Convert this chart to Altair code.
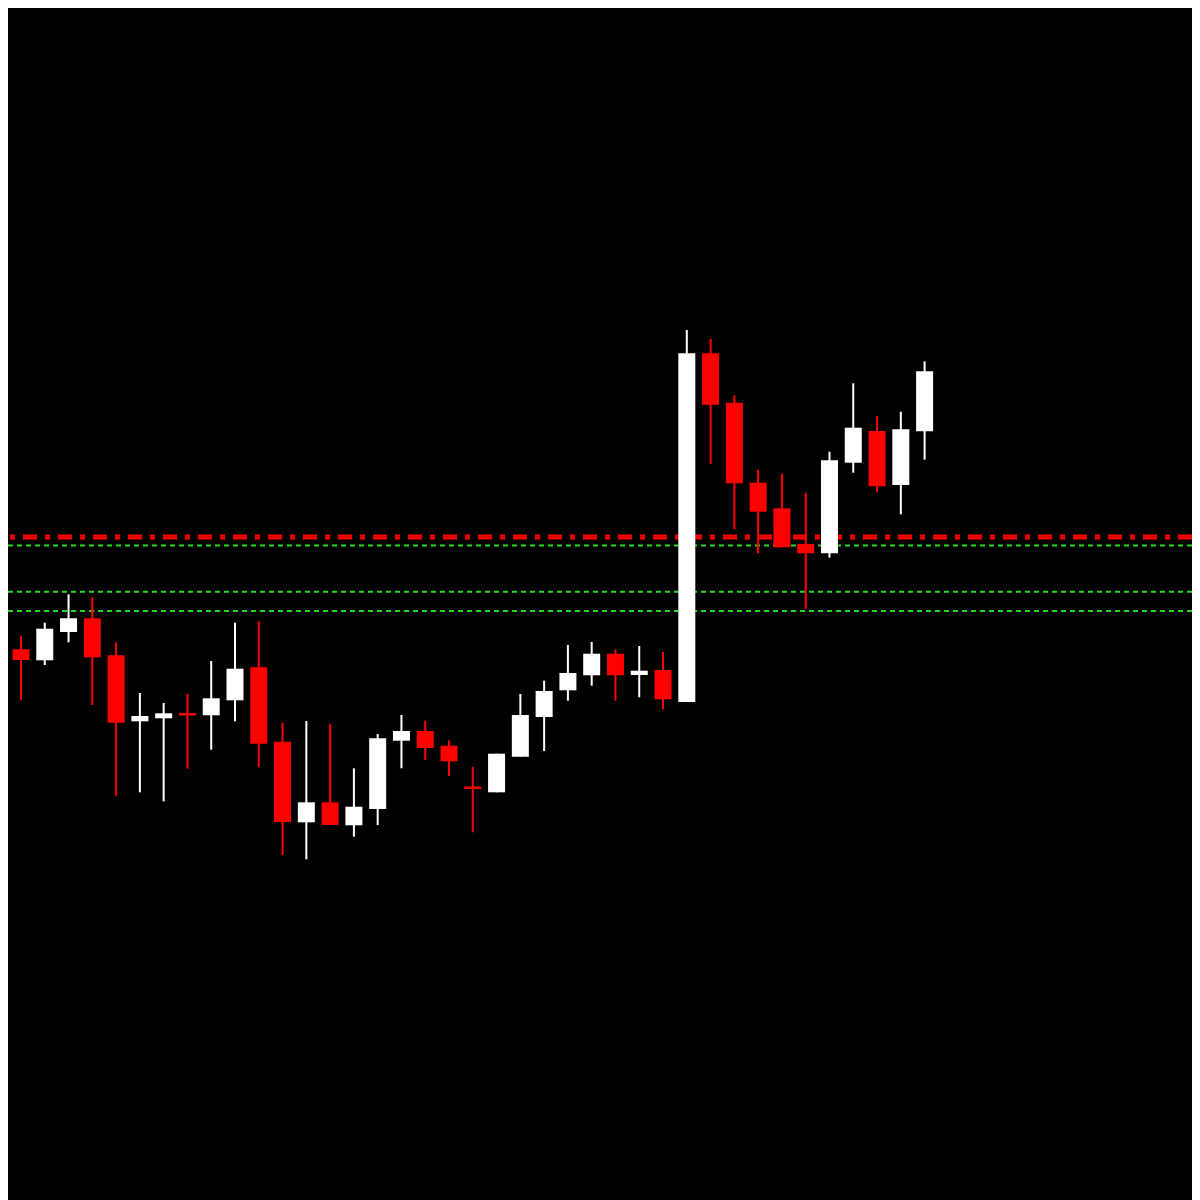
import altair as alt
import pandas as pd

# Candles (price units)
opens  = [568.3, 550.7, 539.7, 568.0, 581.7, 544.7, 478.7, 481.7, 487.0, 484.7,
          499.7, 532.7, 458.3, 377.7, 397.7, 374.7, 391.0, 459.3, 469.0, 454.3,
          413.5, 407.7, 443.3, 483.0, 509.7, 524.7, 546.3, 525.0, 530.0, 498.0,
          846.7, 797.3, 717.3, 691.7, 656.0, 646.7, 737.3, 769.0, 715.0, 768.7]
highs  = [575.0, 564.0, 577.3, 605.7, 602.7, 557.7, 507.0, 497.0, 506.0, 539.0,
          577.3, 578.7, 477.3, 479.0, 476.0, 431.7, 466.0, 485.0, 479.3, 459.7,
          433.0, 446.3, 506.0, 519.3, 555.0, 558.0, 550.7, 554.0, 548.0, 870.0,
          861.0, 804.7, 730.3, 726.3, 707.0, 748.3, 816.7, 783.7, 788.3, 838.7]
lows   = [540.0, 500.0, 535.0, 557.7, 495.0, 404.3, 407.7, 398.7, 431.3, 450.3,
          478.7, 432.7, 345.0, 340.7, 375.0, 363.3, 375.0, 431.7, 440.0, 424.0,
          367.7, 407.7, 443.3, 449.0, 499.3, 514.3, 499.3, 502.7, 490.7, 498.0,
          736.0, 670.7, 646.7, 652.7, 591.0, 642.3, 727.3, 707.7, 685.7, 740.3]
closes = [549.0, 540.0, 571.3, 581.7, 542.7, 477.3, 484.0, 486.7, 484.5, 501.7,
          531.3, 456.3, 378.0, 397.7, 375.0, 393.3, 461.7, 469.0, 452.0, 438.7,
          411.0, 446.3, 485.0, 509.0, 527.0, 546.3, 524.7, 529.3, 500.7, 846.7,
          795.3, 716.7, 688.3, 652.7, 646.7, 739.7, 772.3, 713.7, 770.7, 828.7]

# Horizontal levels
red_levels = [663.0]
green_levels = [654.5, 608.3, 589.0]

df = pd.DataFrame({
    "i": list(range(len(opens))),
    "open": opens, "high": highs, "low": lows, "close": closes,
})
df["dir"] = ["up" if c >= o else "down" for o, c in zip(opens, closes)]

W, H = 1184, 1192
xs = alt.Scale(domain=[0.454, 50.245], nice=False, zero=False, padding=0)
ys = alt.Scale(domain=[0, 1192], nice=False, zero=False, padding=0)
cs = alt.Scale(domain=["up", "down"], range=["#ffffff", "#ff0000"])

red_df = pd.DataFrame({"level": red_levels})
green_df = pd.DataFrame({"level": green_levels})

red_line = alt.Chart(red_df).mark_rule(
    color="#ff0000", strokeWidth=5, strokeDash=[14, 8, 5, 8]
).encode(y=alt.Y("level:Q", scale=ys, axis=None))

red_mid = alt.Chart(red_df).mark_rule(
    color="#c00000", strokeWidth=1, strokeDash=[14, 8, 5, 8]
).encode(y=alt.Y("level:Q", scale=ys, axis=None))

green_line = alt.Chart(green_df).mark_rule(
    color="#22dd22", strokeWidth=2, strokeDash=[5, 4]
).encode(y=alt.Y("level:Q", scale=ys, axis=None))

wicks = alt.Chart(df).mark_rule(strokeWidth=2, clip=True).encode(
    x=alt.X("i:Q", scale=xs, axis=None),
    y=alt.Y("low:Q", scale=ys, axis=None),
    y2="high:Q",
    color=alt.Color("dir:N", scale=cs, legend=None),
)

bodies = alt.Chart(df).mark_bar(size=17, clip=True).encode(
    x=alt.X("i:Q", scale=xs, axis=None),
    y=alt.Y("open:Q", scale=ys, axis=None),
    y2="close:Q",
    color=alt.Color("dir:N", scale=cs, legend=None),
)

chart = alt.layer(green_line, red_line, red_mid, wicks, bodies).properties(
    width=W, height=H, padding=0, autosize=alt.AutoSizeParams(type="none"),
    background="#000000",
).configure_view(stroke=None, fill="#000000")

chart.save("out.html", embed_options={"renderer": "svg", "actions": False})
